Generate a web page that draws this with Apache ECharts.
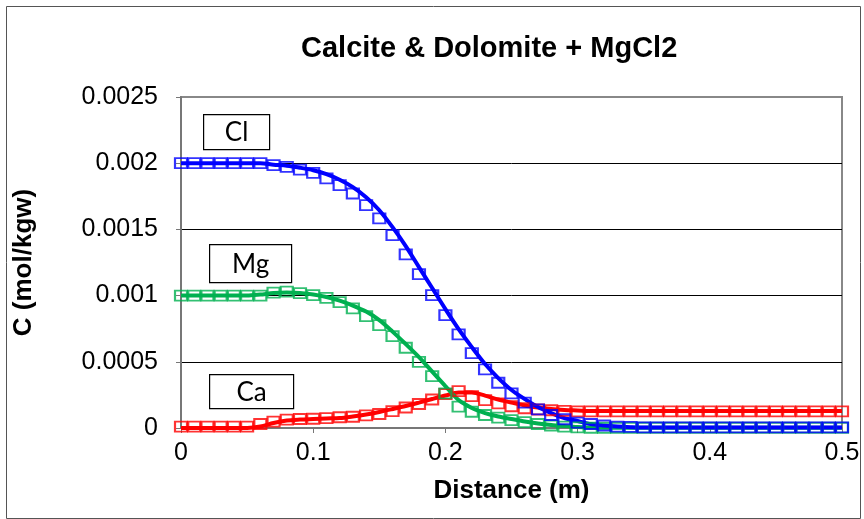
<!DOCTYPE html>
<html>
<head>
<meta charset="utf-8">
<style>
  html, body { margin: 0; padding: 0; background: #fff; }
  #main { width: 864px; height: 519px; }
</style>
<script src="https://cdn.jsdelivr.net/npm/echarts@6/dist/echarts.min.js"></script>
</head>
<body>
<div id="main"></div>
<script>
// distance along the column (m)
var distance = [0, 0.01, 0.02, 0.03, 0.04, 0.05, 0.06, 0.07, 0.08, 0.09,
  0.1, 0.11, 0.12, 0.13, 0.14, 0.15, 0.16, 0.17, 0.18, 0.19,
  0.2, 0.21, 0.22, 0.23, 0.24, 0.25, 0.26, 0.27, 0.28, 0.29,
  0.3, 0.31, 0.32, 0.33, 0.34, 0.35, 0.36, 0.37, 0.38, 0.39,
  0.4, 0.41, 0.42, 0.43, 0.44, 0.45, 0.46, 0.47, 0.48, 0.49, 0.5];

// squares (one model)
var clPts = [0.002, 0.002, 0.002, 0.002, 0.002, 0.002, 0.002, 0.001985, 0.001972, 0.001952,
  0.001927, 0.001885, 0.001834, 0.001771, 0.001683, 0.001583, 0.001457, 0.001311, 0.001162, 0.001004,
  0.000853, 0.000707, 0.000566, 0.000443, 0.000342, 0.000262, 0.000191, 0.000141, 0.000098, 0.000066,
  0.00004, 0.00003, 0.000019, 0.000011, 0.000008, 0.000005, 0.000005, 0.000005, 0.000005, 0.000005,
  0.000005, 0.000005, 0.000005, 0.000005, 0.000005, 0.000005, 0.000005, 0.000005, 0.000005, 0.000005, 0.000005];
var mgPts = [0.001, 0.001, 0.001, 0.001, 0.001, 0.001, 0.001, 0.001023, 0.00103, 0.001019,
  0.001004, 0.000983, 0.000951, 0.000903, 0.000845, 0.000777, 0.000694, 0.000606, 0.0005, 0.000392,
  0.000262, 0.000161, 0.000123, 0.000098, 0.000079, 0.00006, 0.000045, 0.00003, 0.000019, 0.000011,
  0.000005, 0.000002, 0.000002, 0.000002, 0.000002, 0.000002, 0.000002, 0.000002, 0.000002, 0.000002,
  0.000002, 0.000002, 0.000002, 0.000002, 0.000002, 0.000002, 0.000002, 0.000002, 0.000002, 0.000002, 0.000002];
var caPts = [0.00001, 0.00001, 0.00001, 0.00001, 0.00001, 0.00001, 0.00003, 0.000048, 0.000063, 0.000068,
  0.00007, 0.000075, 0.000081, 0.000085, 0.000096, 0.000106, 0.000128, 0.000155, 0.000181, 0.000215,
  0.000257, 0.000279, 0.000241, 0.000211, 0.000186, 0.000164, 0.000149, 0.00014, 0.000134, 0.00013,
  0.000126, 0.000126, 0.000126, 0.000126, 0.000126, 0.000126, 0.000126, 0.000126, 0.000126, 0.000126,
  0.000126, 0.000126, 0.000126, 0.000126, 0.000126, 0.000126, 0.000126, 0.000126, 0.000126, 0.000126, 0.000126];

// solid curves (other model)
var clLine = [0.002, 0.002, 0.002, 0.002, 0.002, 0.002, 0.002, 0.001989, 0.001981, 0.001966,
  0.001947, 0.001917, 0.001875, 0.001819, 0.001743, 0.001645, 0.001517, 0.001374, 0.001215, 0.001057,
  0.000898, 0.000747, 0.000611, 0.000483, 0.000377, 0.000287, 0.000219, 0.000158, 0.000113, 0.000075,
  0.000053, 0.00003, 0.000019, 0.000011, 0.000006, 0.000003, 0.000003, 0.000003, 0.000003, 0.000003,
  0.000003, 0.000003, 0.000003, 0.000003, 0.000003, 0.000003, 0.000003, 0.000003, 0.000003, 0.000003, 0.000003];
var mgLine = [0.001, 0.001, 0.001, 0.001, 0.001, 0.001, 0.001008, 0.001019, 0.001023, 0.001019,
  0.001008, 0.000989, 0.000962, 0.000925, 0.000879, 0.000815, 0.000728, 0.000634, 0.000536, 0.000426,
  0.000317, 0.000211, 0.000151, 0.000113, 0.000087, 0.000068, 0.000049, 0.000034, 0.000023, 0.000015,
  0.000008, 0.000004, 0.000001, 0.000001, 0.000001, 0.000001, 0.000001, 0.000001, 0.000001, 0.000001,
  0.000001, 0.000001, 0.000001, 0.000001, 0.000001, 0.000001, 0.000001, 0.000001, 0.000001, 0.000001, 0.000001];
var caLine = [0, 0, 0, 0, 0, 0, 0.000011, 0.000038, 0.000057, 0.000064,
  0.000068, 0.000072, 0.000075, 0.000087, 0.000102, 0.000121, 0.000143, 0.000166, 0.000192, 0.000219,
  0.000245, 0.000268, 0.000268, 0.000245, 0.000215, 0.000192, 0.00017, 0.000155, 0.000143, 0.000136,
  0.000132, 0.000128, 0.000128, 0.000128, 0.000128, 0.000128, 0.000128, 0.000128, 0.000128, 0.000128,
  0.000128, 0.000128, 0.000128, 0.000128, 0.000128, 0.000128, 0.000128, 0.000128, 0.000128, 0.000128, 0.000128];

var species = ['Cl', 'Mg', 'Ca'];
var colors = ['#0000ff', '#00b050', '#ff0000'];

function pairs(ys) {
  return ys.map(function (y, i) { return [distance[i], y]; });
}

var myChart = echarts.init(document.getElementById('main'));

var lines = [clLine, mgLine, caLine];
var pts = [clPts, mgPts, caPts];
var series = [];
// curves first, squares drawn over them
for (var k = 2; k >= 0; k--) {
  series.push({
    name: species[k] + ' line',
    type: 'line',
    data: pairs(lines[k]),
    showSymbol: false,
    smooth: 0.3,
    lineStyle: { color: colors[k], width: 4 },
    z: 2
  });
}
for (var k = 2; k >= 0; k--) {
  series.push({
    name: species[k],
    type: 'scatter',
    data: pairs(pts[k]),
    symbol: 'rect',
    symbolSize: [12, 10],
    clip: false,
    itemStyle: { color: 'rgba(0,0,0,0)', borderColor: colors[k], borderWidth: 2 },
    z: 3
  });
}

function labelBox(x, y, w, h, txt) {
  return {
    type: 'group', left: x, top: y,
    children: [
      { type: 'rect', shape: { x: 0, y: 0, width: w, height: h },
        style: { fill: '#fff', stroke: '#000', lineWidth: 1.2 } },
      { type: 'text', x: w / 2, y: h / 2 + 1,
        style: { text: txt, font: '26px Lato', fill: '#000', align: 'center', verticalAlign: 'middle' } }
    ]
  };
}

var option = {
  animation: false,
  title: {
    text: 'Calcite & Dolomite + MgCl2',
    left: 296, top: 29,
    textStyle: { fontFamily: 'Liberation Sans', fontWeight: 'bold', fontSize: 29, color: '#000' }
  },
  grid: {
    left: 181, right: 22, top: 97, bottom: 91,
    show: true, borderColor: '#888', borderWidth: 2, backgroundColor: '#fff'
  },
  xAxis: {
    type: 'value', min: 0, max: 0.5, interval: 0.1,
    name: 'Distance (m)', nameLocation: 'middle', nameGap: 50,
    nameTextStyle: { fontFamily: 'Liberation Sans', fontWeight: 'bold', fontSize: 26, color: '#000' },
    axisLine: { lineStyle: { color: '#777', width: 2 } },
    axisTick: { show: true, length: 5, lineStyle: { color: '#777' } },
    axisLabel: { fontFamily: 'Liberation Sans', fontSize: 25, color: '#000', margin: 13 },
    splitLine: { show: false }
  },
  yAxis: {
    type: 'value', min: 0, max: 0.0025, interval: 0.0005,
    name: 'C (mol/kgw)', nameLocation: 'middle', nameGap: 144,
    nameTextStyle: { fontFamily: 'Liberation Sans', fontWeight: 'bold', fontSize: 26, color: '#000' },
    axisLine: { show: true, lineStyle: { color: '#777', width: 2 } },
    axisTick: { show: true, length: 5, lineStyle: { color: '#777' } },
    axisLabel: {
      fontFamily: 'Liberation Sans', fontSize: 25, color: '#000', margin: 23,
      formatter: function (v) { return String(+v.toFixed(4)); }
    },
    splitLine: { show: true, showMinLine: false, showMaxLine: false, lineStyle: { color: '#000', width: 1 } }
  },
  graphic: [
    { type: 'rect', left: 4, top: 4, shape: { width: 854, height: 512 },
      style: { fill: 'none', stroke: '#555', lineWidth: 1 }, z: -1 },
    labelBox(203, 114, 66, 35, 'Cl'),
    labelBox(209, 244, 82, 38, 'Mg'),
    labelBox(209, 374, 84, 34, 'Ca')
  ],
  series: series
};

myChart.setOption(option);
</script>
</body>
</html>
